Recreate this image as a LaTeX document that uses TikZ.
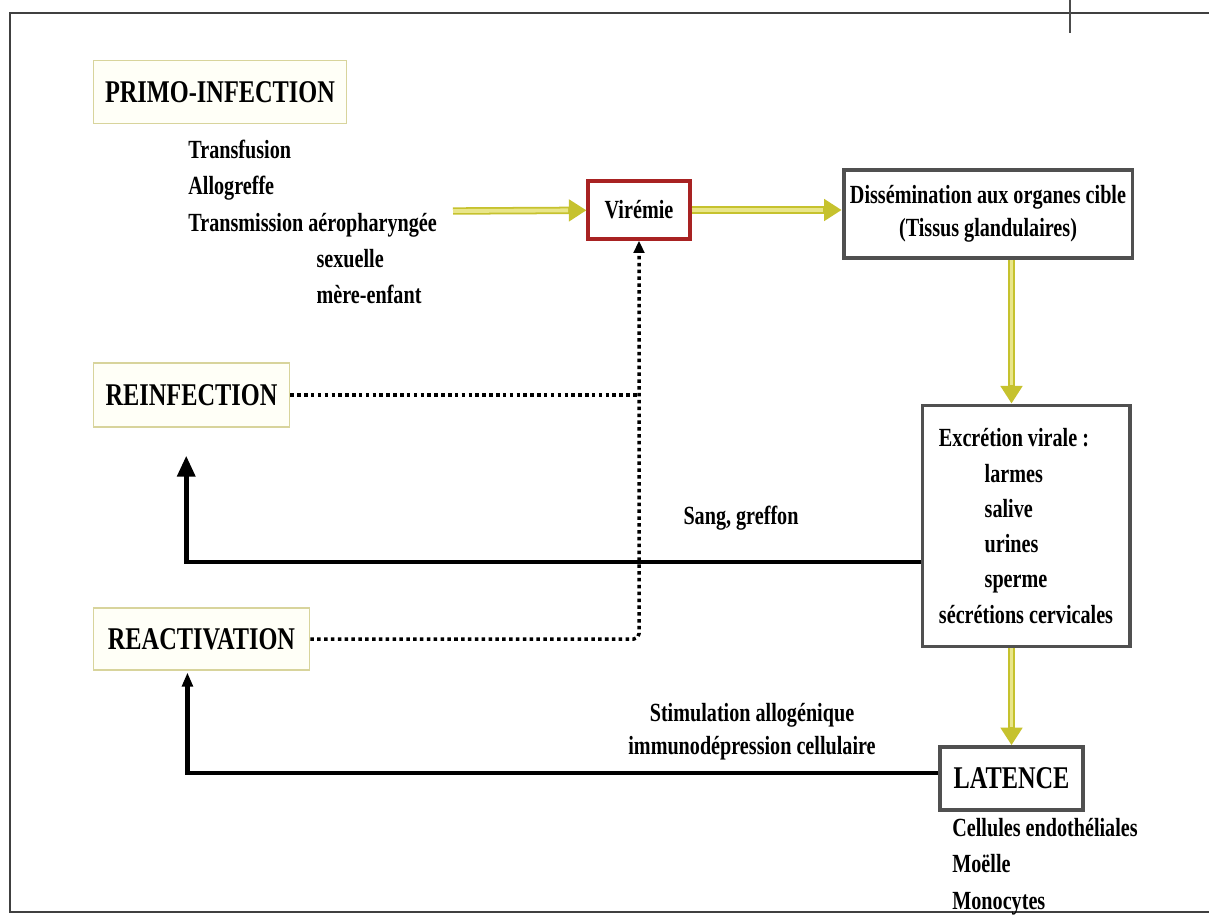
\documentclass[tikz,border=0pt]{standalone}
\usepackage{fontspec}
\setmainfont{Liberation Serif}[FakeStretch=0.77]
\usetikzlibrary{positioning,arrows.meta,calc}
\definecolor{yedge}{HTML}{C6C22E}
\definecolor{yfill}{HTML}{E9E68A}
\definecolor{boxgray}{HTML}{505050}
\definecolor{virred}{HTML}{A82222}
\definecolor{paleframe}{HTML}{D8D49C}

\begin{document}
\begin{tikzpicture}[x=0.02cm, y=-0.02cm, >=Latex,
  headtext/.style={font=\fontsize{18}{20}\selectfont\bfseries},
  listtext/.style={font=\fontsize{14.9}{20.7}\selectfont\bfseries, inner sep=0pt},
  palebox/.style={draw=paleframe, line width=0.9pt, fill=yellow!3, headtext},
  greybox/.style={draw=boxgray, line width=2.2pt, fill=white},
  ytip/.style={yedge, line width=4.2pt, -{Triangle[length=10pt,width=12pt]}},
  yinner/.style={yfill, line width=2.2pt, shorten >=10.5pt},
  dotline/.style={line width=2pt, dash pattern=on 2pt off 1.9pt},
  framing/.style={black!75, line width=1.1pt}]

  \useasboundingbox (0,0) rectangle (1209,914);
  \clip (0,0) rectangle (1209,914);

  % page frame
  \draw[framing] (1209,13) -- (10,13) -- (10,912) -- (1209,912);
  \draw[black!70, line width=0.6pt] (1070,0) -- (1070,33);

  % boxes
  \node[palebox, minimum width=144pt, minimum height=35.7pt] (primo) at (220,92) {PRIMO-INFECTION};
  \node[listtext, anchor=west, align=left] (routes) at (188,222)
    {Transfusion\\Allogreffe\\Transmission aéropharyngée\\\hspace*{73pt}sexuelle\\\hspace*{73pt}mère-enfant};
  \node[draw=virred, line width=2pt, minimum width=57.8pt, minimum height=32.9pt, listtext] (viremie) at (639,210) {Virémie};
  \node[greybox, listtext, align=center, font=\fontsize{14.9}{19}\selectfont\bfseries,
    minimum width=164.4pt, minimum height=49.9pt] (dissem) at (988,214)
    {Dissémination aux organes cible\\(Tissus glandulaires)};
  \node[greybox, listtext, align=left, font=\fontsize{14.9}{20.1}\selectfont\bfseries,
    minimum width=117.9pt, minimum height=137.2pt] (excretion) at (1026,526)
    {Excrétion virale :\\\hspace*{26pt}larmes\\\hspace*{26pt}salive\\\hspace*{26pt}urines\\\hspace*{26pt}sperme\\sécrétions cervicales};
  \node[greybox, headtext, minimum width=81.1pt, minimum height=35.7pt] (latence) at (1011.5,778.5) {LATENCE};
  \node[listtext, anchor=north west, align=left] (sites) at (952,818) {Cellules endothéliales\\Moëlle\\Monocytes};
  \node[palebox, minimum width=111.7pt, minimum height=36.3pt] (reinfection) at (191.5,395) {REINFECTION};
  \node[palebox, minimum width=123pt, minimum height=35.2pt] (reactivation) at (201.5,639) {REACTIVATION};

  % labels
  \node[listtext] (sang) at (741,518) {Sang, greffon};
  \node[listtext, align=center, font=\fontsize{14.9}{18.7}\selectfont\bfseries] (stimul) at (752,732)
    {Stimulation allogénique\\immunodépression cellulaire};

  % yellow arrows
  \coordinate (routes-out) at (453,211);
  \draw[ytip] (routes-out) -- (viremie);
  \draw[yinner] (routes-out) -- (viremie);
  \draw[ytip] (viremie.east) -- (viremie.east -| dissem.west);
  \draw[yinner] (viremie.east) -- (viremie.east -| dissem.west);
  \draw[ytip] (latence |- dissem.south) -- (latence |- excretion.north);
  \draw[yinner] (latence |- dissem.south) -- (latence |- excretion.north);
  \draw[ytip] (latence |- excretion.south) -- (latence.north);
  \draw[yinner] (latence |- excretion.south) -- (latence.north);

  % dotted returns to viremia
  \draw[dotline] (reinfection.east) -- (reinfection.east -| viremie.south);
  \draw[dotline, rounded corners=3pt, -{Triangle[length=7pt,width=6pt]}] (reactivation.east) -| (viremie.south);

  % black arrows
  \draw[line width=2.8pt, shorten >=15.9pt, -{Triangle[length=12pt,width=10pt]}]
    ($(excretion.west)+(0,36)$) -| ([xshift=-3pt]reinfection.south);
  \draw[line width=2.8pt, shorten >=1pt, -{Triangle[length=8pt,width=6pt]}]
    ($(latence.west)+(0,-5.5)$) -| ([xshift=-8pt]reactivation.south);
\end{tikzpicture}
\end{document}
